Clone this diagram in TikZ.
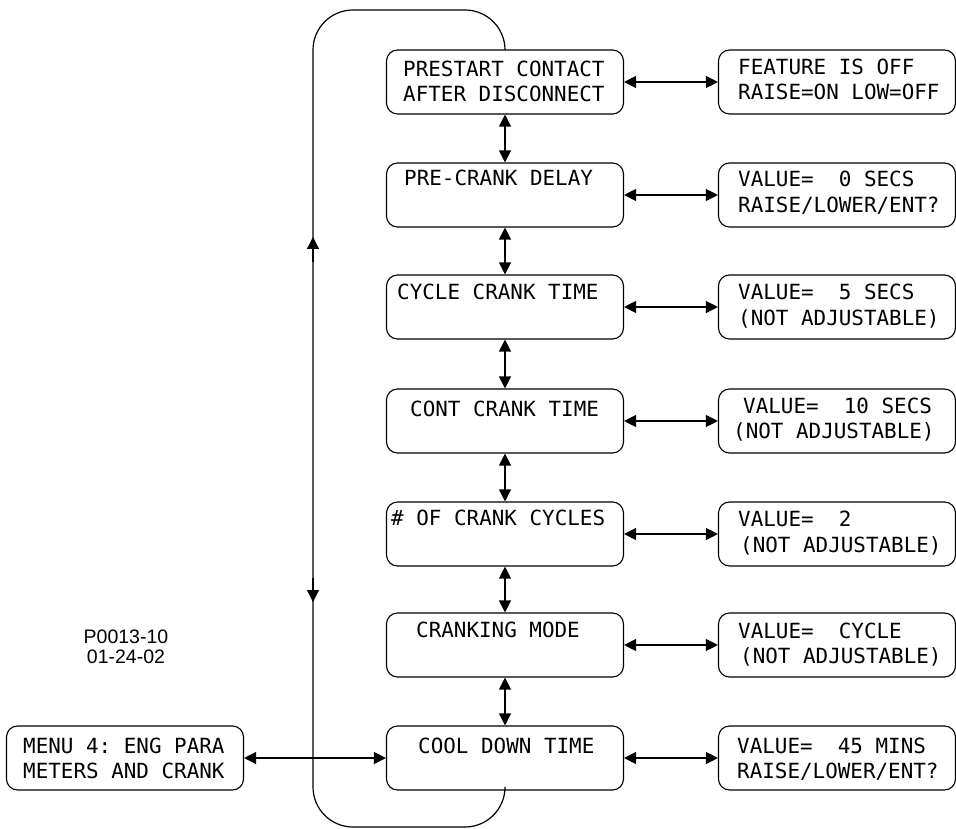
\documentclass[tikz,border=0pt]{standalone}
\usepackage{fontspec}
\setmainfont{Liberation Sans}
\setmonofont{DejaVu Sans Mono}
\usetikzlibrary{arrows.meta}
\tikzset{mytip/.tip={Triangle[length=12pt,width=12pt]}}
\begin{document}
\begin{tikzpicture}[x=1pt,y=-1pt,
  box/.style={draw, rounded corners=11pt, line width=1.1pt, minimum width=237pt, minimum height=64pt, inner sep=0pt},
  lbl/.style={anchor=base west, inner sep=0pt, font=\ttfamily\fontsize{20.9}{25}\selectfont},
  code/.style={anchor=base, inner sep=0pt, font=\fontsize{19.5}{22}\selectfont},
  conn/.style={line width=1.2pt, mytip-mytip},
  loopline/.style={line width=1.2pt, rounded corners=40pt},
]
\useasboundingbox (0,0) rectangle (956,829);

% middle column
\node[box] (m1) at (505,82) {};
\node[box] (m2) at (505,195) {};
\node[box] (m3) at (505,307) {};
\node[box] (m4) at (505,421) {};
\node[box] (m5) at (505,534) {};
\node[box] (m6) at (505,645) {};
\node[box] (m7) at (505,758) {};
% right column
\node[box] (r1) at (837,82) {};
\node[box] (r2) at (837,195) {};
\node[box] (r3) at (837,307) {};
\node[box] (r4) at (837,421) {};
\node[box] (r5) at (837,534) {};
\node[box] (r6) at (837,645) {};
\node[box] (r7) at (837,758) {};
% menu box
\node[box] (menu) at (125,758) {};

% texts middle
\node[lbl] (m1a) at (403,77) {PRESTART CONTACT};
\node[lbl] (m1b) at (403,102) {AFTER DISCONNECT};
\node[lbl] (m2a) at (404,186) {PRE-CRANK DELAY};
\node[lbl] (m3a) at (397,299) {CYCLE CRANK TIME};
\node[lbl] (m4a) at (410,416) {CONT CRANK TIME};
\node[lbl] (m5a) at (391,525) {\# OF CRANK CYCLES};
\node[lbl] (m6a) at (416,637) {CRANKING MODE};
\node[lbl] (m7a) at (418,753) {COOL DOWN TIME};
% texts right
\node[lbl] (r1a) at (738,75) {FEATURE IS OFF};
\node[lbl] (r1b) at (738,100) {RAISE=ON LOW=OFF};
\node[lbl] (r2a) at (738,187) {VALUE=~~0 SECS};
\node[lbl] (r2b) at (738,213) {RAISE/LOWER/ENT?};
\node[lbl] (r3a) at (738,299) {VALUE=~~5 SECS};
\node[lbl] (r3b) at (738,325) {(NOT ADJUSTABLE)};
\node[lbl] (r4a) at (743,413) {VALUE=~~10 SECS};
\node[lbl] (r4b) at (733,438) {(NOT ADJUSTABLE)};
\node[lbl] (r5a) at (738,526) {VALUE=~~2};
\node[lbl] (r5b) at (740,552) {(NOT ADJUSTABLE)};
\node[lbl] (r6a) at (738,638) {VALUE=~~CYCLE};
\node[lbl] (r6b) at (740,663) {(NOT ADJUSTABLE)};
\node[lbl] (r7a) at (737,753) {VALUE=~~45 MINS};
\node[lbl] (r7b) at (737,778) {RAISE/LOWER/ENT?};
% menu text
\node[lbl] (menua) at (23,753) {MENU 4: ENG PARA};
\node[lbl] (menub) at (23,778) {METERS AND CRANK};
% drawing code
\node[code] (codea) at (126,643) {P0013-10};
\node[code] (codeb) at (126,663) {01-24-02};

% horizontal connectors
\draw[conn] (m1) -- (r1);
\draw[conn] (m2) -- (r2);
\draw[conn] (m3) -- (r3);
\draw[conn] (m4) -- (r4);
\draw[conn] (m5) -- (r5);
\draw[conn] (m6) -- (r6);
\draw[conn] (m7) -- (r7);
\draw[conn] (menu) -- (m7);
% vertical connectors
\draw[conn] (m1) -- (m2);
\draw[conn] (m2) -- (m3);
\draw[conn] (m3) -- (m4);
\draw[conn] (m4) -- (m5);
\draw[conn] (m5) -- (m6);
\draw[conn] (m6) -- (m7);

% loop
\coordinate (lt) at (313,10);
\coordinate (lb) at (313,827);
\draw[loopline] (m1.north) |- (lt) -- (lb) -| (m7.south);
\coordinate (au1) at (313,262);
\coordinate (au2) at (313,237);
\coordinate (ad1) at (313,578);
\coordinate (ad2) at (313,602);
\draw[line width=1.2pt, -mytip] (au1) -- (au2);
\draw[line width=1.2pt, -mytip] (ad1) -- (ad2);
\end{tikzpicture}
\end{document}
